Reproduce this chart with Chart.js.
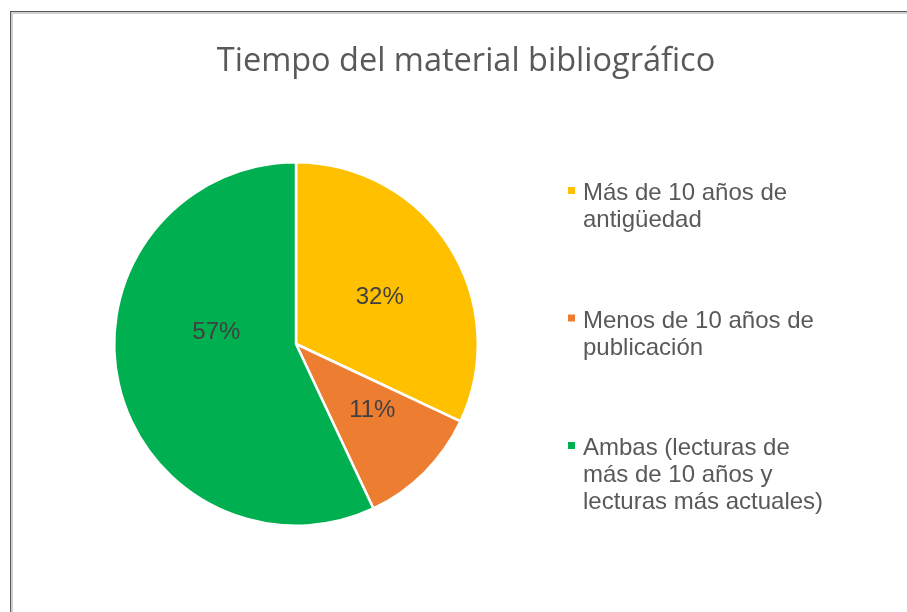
<!DOCTYPE html>
<html lang="es">
<head>
<meta charset="utf-8">
<title>Tiempo del material bibliográfico</title>
<script src="https://cdn.jsdelivr.net/npm/chart.js@4/dist/chart.umd.min.js"></script>
<style>
  html, body { margin: 0; padding: 0; background: #fff; overflow: hidden; }
  #wrap { position: relative; width: 907px; height: 612px; }
  #marco {
    position: absolute; left: 10px; top: 11px; width: 920px; height: 620px;
    border: 1px solid #5a5a5a; box-shadow: inset 0 0 0 2px #cfcfcf;
  }
  #grafico { position: absolute; left: 0; top: 0; }
</style>
</head>
<body>
<div id="wrap">
  <div id="marco"></div>
  <canvas id="grafico" width="907" height="612"></canvas>
</div>
<script>
  // datos
  const titulo = 'Tiempo del material bibliográfico';
  const categorias = [
    ['Más de 10 años de', 'antigüedad'],
    ['Menos de 10 años de', 'publicación'],
    ['Ambas (lecturas de', 'más de 10 años y', 'lecturas más actuales)']
  ];
  const porcentajes = [32, 11, 57];
  const colores = ['#FFC000', '#ED7D31', '#00B050'];

  /*
    ==================================================
    ============ etiquetas, titulo y leyenda ==========
    ==================================================
  */

  const pluginTextos = {
    id: 'textos',
    afterDatasetsDraw(chart, args, opts) {
      let ctx = chart.ctx;
      let meta = chart.getDatasetMeta(0);
      let total = porcentajes.reduce((a, b) => a + b, 0);

      ctx.save();
      ctx.font = '24px "Liberation Sans", Arial, sans-serif';
      ctx.fillStyle = '#404040';
      ctx.textAlign = 'center';
      ctx.textBaseline = 'middle';
      meta.data.forEach((arc, i) => {
        let { x, y, startAngle, endAngle, outerRadius } = arc.getProps(['x', 'y', 'startAngle', 'endAngle', 'outerRadius'], true);
        let mid = (startAngle + endAngle) / 2;
        let r = outerRadius * 0.5;
        let [nx, ny] = opts.ajustes[i] || [0, 0];
        let pct = Math.round(porcentajes[i] / total * 100) + '%';
        ctx.fillText(pct, x + Math.cos(mid) * r + nx, y + Math.sin(mid) * r + ny);
      });
      ctx.restore();
    },
    afterDraw(chart, args, opts) {
      let ctx = chart.ctx;
      ctx.save();

      // titulo
      ctx.font = opts.tituloFuente;
      ctx.fillStyle = '#595959';
      ctx.textAlign = 'center';
      ctx.textBaseline = 'alphabetic';
      ctx.fillText(titulo, opts.tituloX, opts.tituloY);

      // leyenda
      ctx.font = '24px "Liberation Sans", Arial, sans-serif';
      ctx.textAlign = 'left';
      categorias.forEach((lineas, i) => {
        let base = opts.leyendaY + i * opts.pasoItem;
        ctx.fillStyle = colores[i];
        ctx.fillRect(opts.leyendaX, base - 13, 7, 7);
        ctx.fillStyle = '#595959';
        lineas.forEach((txt, j) => {
          ctx.fillText(txt, opts.leyendaX + 15, base + j * opts.altoLinea);
        });
      });
      ctx.restore();
    }
  };

  let grafico = new Chart(document.getElementById('grafico').getContext('2d'), {
    type: 'pie',
    data: {
      labels: categorias,
      datasets: [{
        data: porcentajes,
        backgroundColor: colores,
        borderColor: '#ffffff',
        borderWidth: 2.5
      }]
    },
    options: {
      responsive: false,
      animation: false,
      layout: { padding: { left: 113, right: 428, top: 161, bottom: 85 } },
      plugins: {
        legend: { display: false },
        title: { display: false },
        tooltip: { enabled: false },
        textos: {
          ajustes: [[7, 2], [12, 2], [9, -31]],
          tituloFuente: '32.5px "Open Sans", sans-serif',
          tituloX: 466,
          tituloY: 71,
          leyendaX: 568,
          leyendaY: 200,
          pasoItem: 127.5,
          altoLinea: 27
        }
      }
    },
    plugins: [pluginTextos]
  });
</script>
</body>
</html>
